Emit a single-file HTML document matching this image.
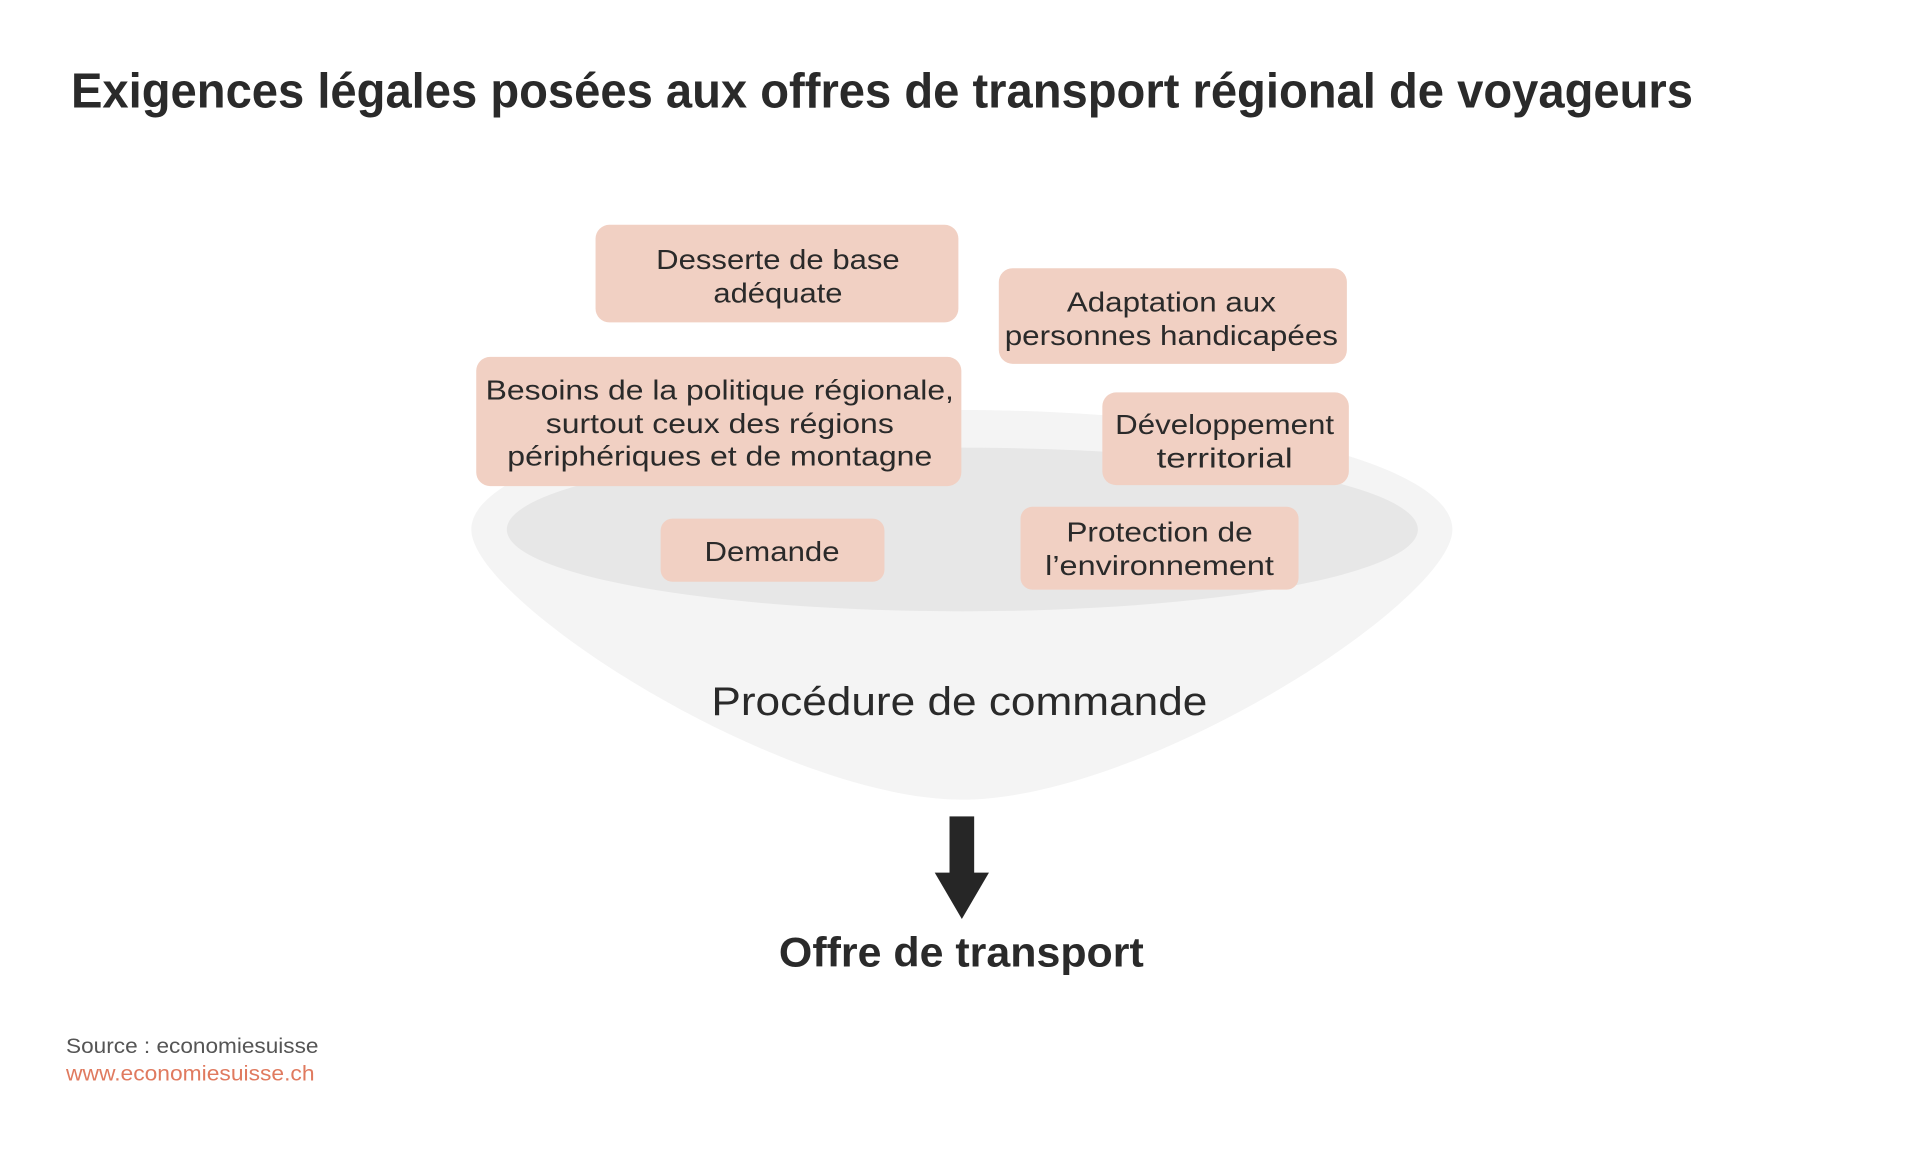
<!DOCTYPE html>
<html><head><meta charset="utf-8"><style>
html,body{margin:0;padding:0;background:#fff;}
svg{display:block;}
text{font-family:"Liberation Sans",sans-serif;fill:#2a2a2a;}
</style></head><body>
<svg width="1920" height="1150" viewBox="0 0 1920 1150" xmlns="http://www.w3.org/2000/svg">
<g transform="scale(0.986)">
<text x="72" y="109" font-size="50" font-weight="bold" textLength="1645" lengthAdjust="spacingAndGlyphs">Exigences légales posées aux offres de transport régional de voyageurs</text>

<path d="M478,537 A497,121 0 0 1 1473,537 C1473,610 1160,811 976,811 C792,811 478,610 478,537 Z" fill="#f4f4f4"/>
<ellipse cx="976" cy="537" rx="462" ry="83" fill="#e7e7e7"/>

<g fill="#f1d0c3">
<rect x="604" y="228" width="368" height="99" rx="14"/>
<rect x="1013" y="272" width="353" height="97" rx="14"/>
<rect x="483" y="362" width="492" height="131" rx="14"/>
<rect x="1118" y="398" width="250" height="94" rx="14"/>
<rect x="670" y="526" width="227" height="64" rx="12"/>
<rect x="1035" y="514" width="282" height="84" rx="12"/>
</g>
<g font-size="28" text-anchor="middle">
<text x="789" y="273" textLength="247" lengthAdjust="spacingAndGlyphs">Desserte de base</text>
<text x="789" y="307" textLength="131" lengthAdjust="spacingAndGlyphs">adéquate</text>
<text x="1188" y="316" textLength="212" lengthAdjust="spacingAndGlyphs">Adaptation aux</text>
<text x="1188" y="350" textLength="338" lengthAdjust="spacingAndGlyphs">personnes handicapées</text>
<text x="730" y="405" textLength="475" lengthAdjust="spacingAndGlyphs">Besoins de la politique régionale,</text>
<text x="730" y="439" textLength="353" lengthAdjust="spacingAndGlyphs">surtout ceux des régions</text>
<text x="730" y="472" textLength="431" lengthAdjust="spacingAndGlyphs">périphériques et de montagne</text>
<text x="1242" y="440" textLength="222" lengthAdjust="spacingAndGlyphs">Développement</text>
<text x="1242" y="474" textLength="138" lengthAdjust="spacingAndGlyphs">territorial</text>
<text x="783" y="569" textLength="137" lengthAdjust="spacingAndGlyphs">Demande</text>
<text x="1176" y="549" textLength="189" lengthAdjust="spacingAndGlyphs">Protection de</text>
<text x="1176" y="583" textLength="232" lengthAdjust="spacingAndGlyphs">l’environnement</text>
</g>
<text x="973" y="725" font-size="40" text-anchor="middle" textLength="503" lengthAdjust="spacingAndGlyphs">Procédure de commande</text>

<rect x="963" y="828" width="25" height="58" fill="#262626"/>
<polygon points="948,885 1003,885 975.5,932" fill="#262626"/>

<text x="975" y="980" font-size="42" font-weight="bold" text-anchor="middle" textLength="370" lengthAdjust="spacingAndGlyphs">Offre de transport</text>

<text x="67" y="1068" font-size="22" style="fill:#555" textLength="256" lengthAdjust="spacingAndGlyphs">Source : economiesuisse</text>
<text x="67" y="1096" font-size="22" style="fill:#e07a5f" textLength="252" lengthAdjust="spacingAndGlyphs">www.economiesuisse.ch</text>
</g>
</svg>
</body></html>
